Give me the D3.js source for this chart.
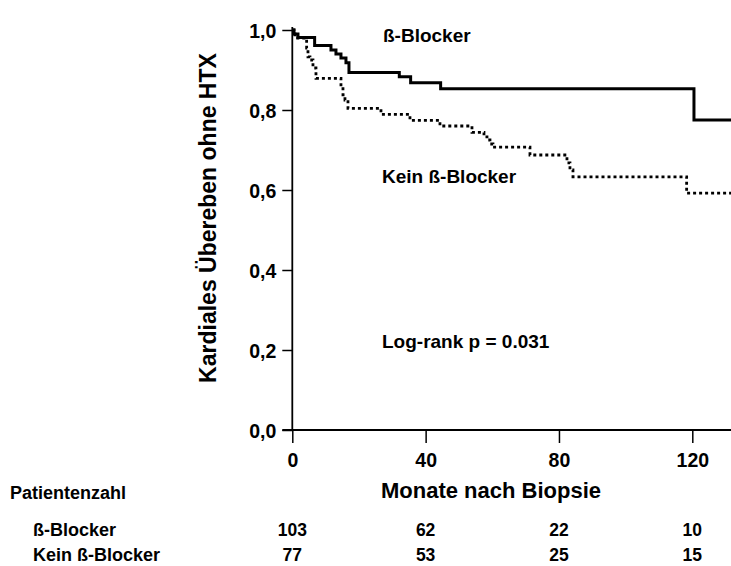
<!DOCTYPE html>
<html>
<head>
<meta charset="utf-8">
<script src="https://d3js.org/d3.v7.min.js"></script>
<style>
  body { margin: 0; background: #fff; }
  svg text { font-family: "Liberation Sans", Arial, sans-serif; font-weight: bold; fill: #000; }
</style>
</head>
<body>
<div id="chart"></div>
<script>
// Kaplan-Meier steps (months, survival)
const betaTimes = [0, 0.5, 1.7, 6.7, 11.6, 13.1, 14.6, 16.1, 17.0, 32.1, 35.5, 44.5, 120.5, 132];
const betaSurv  = [1.0, 0.99, 0.981, 0.961, 0.95, 0.94, 0.93, 0.918, 0.894, 0.883, 0.868, 0.853, 0.775, 0.775];

const keinTimes = [0, 0.5, 0.8, 4.3, 4.7, 5.3, 6.2, 7.1, 14.6, 15.2, 15.8, 16.7, 26.6, 35.3, 44.3, 53.9, 57.5, 58.4, 59.3, 60.2, 71.3, 82.4, 83.3, 84.2, 118.3, 132];
const keinSurv  = [1.0, 0.99, 0.98, 0.955, 0.933, 0.925, 0.905, 0.879, 0.858, 0.838, 0.825, 0.804, 0.789, 0.774, 0.76, 0.744, 0.733, 0.725, 0.715, 0.707, 0.6875, 0.668, 0.65, 0.633, 0.592, 0.592];

const xTicks = [0, 40, 80, 120];
const yTicks = [0, 0.2, 0.4, 0.6, 0.8, 1.0];

const groups = ["ß-Blocker", "Kein ß-Blocker"];
const atRisk = [[103, 62, 22, 10], [77, 53, 25, 15]];

const width = 731, height = 566;

const svg = d3.select("#chart").append("svg")
    .attr("width", width)
    .attr("height", height);

const x = d3.scaleLinear().domain([0, 132]).range([292.3, 732.3]);
const y = d3.scaleLinear().domain([0, 1]).range([430, 30]);

// axes
const yAxis = svg.append("g")
    .attr("transform", `translate(${x(0)},0)`)
    .call(d3.axisLeft(y).tickValues(yTicks).tickSize(10).tickPadding(6)
        .tickFormat(d => d3.format(".1f")(d).replace(".", ",")));
yAxis.select(".domain").remove();
yAxis.selectAll("text").style("font-size", "19.5px").attr("dy", "0.4em");
yAxis.selectAll("line").attr("stroke-width", 1.5);

const xAxis = svg.append("g")
    .attr("transform", `translate(0,${y(0)})`)
    .call(d3.axisBottom(x).tickValues(xTicks).tickSize(13).tickPadding(10));
xAxis.select(".domain").remove();
xAxis.selectAll("text").style("font-size", "19.5px");
xAxis.selectAll("line").attr("stroke-width", 1.5);

svg.append("line")
    .attr("x1", x(0)).attr("x2", x(0))
    .attr("y1", y(1) - 3).attr("y2", y(0))
    .attr("stroke", "#000").attr("stroke-width", 1.8);
svg.append("line")
    .attr("x1", x(0) - 10).attr("x2", x(132))
    .attr("y1", y(0)).attr("y2", y(0))
    .attr("stroke", "#000").attr("stroke-width", 1.8);

// curves
const line = d3.line()
    .x(d => x(d[0]))
    .y(d => y(d[1]))
    .curve(d3.curveStepAfter);

svg.append("path")
    .datum(keinTimes.map((t, i) => [t, keinSurv[i]]))
    .attr("fill", "none")
    .attr("stroke", "#000")
    .attr("stroke-width", 2.8)
    .attr("stroke-dasharray", "3,3")
    .attr("d", line);

svg.append("path")
    .datum(betaTimes.map((t, i) => [t, betaSurv[i]]))
    .attr("fill", "none")
    .attr("stroke", "#000")
    .attr("stroke-width", 3)
    .attr("d", line);

// annotations
svg.append("text").attr("x", 383).attr("y", 42).style("font-size", "19px").text("ß-Blocker");
svg.append("text").attr("x", 382).attr("y", 183).style("font-size", "19px").text("Kein ß-Blocker");
svg.append("text").attr("x", 382).attr("y", 348).style("font-size", "19px").text("Log-rank p = 0.031");

// axis titles
svg.append("text")
    .attr("x", 491).attr("y", 498)
    .attr("text-anchor", "middle")
    .style("font-size", "22px")
    .text("Monate nach Biopsie");

svg.append("text")
    .attr("transform", "translate(216,218) rotate(-90)")
    .attr("text-anchor", "middle")
    .style("font-size", "23px")
    .text("Kardiales Übereben ohne HTX");

// number at risk table
svg.append("text").attr("x", 10).attr("y", 499).style("font-size", "18px").text("Patientenzahl");

const rowY = [536, 561];
groups.forEach((g, i) => {
    svg.append("text").attr("x", 33).attr("y", rowY[i]).style("font-size", "18px").text(g);
    svg.append("g").selectAll("text")
        .data(atRisk[i])
        .join("text")
        .attr("x", (d, j) => x(xTicks[j]))
        .attr("y", rowY[i])
        .attr("text-anchor", "middle")
        .style("font-size", "17.5px")
        .text(d => d);
});
</script>
</body>
</html>
